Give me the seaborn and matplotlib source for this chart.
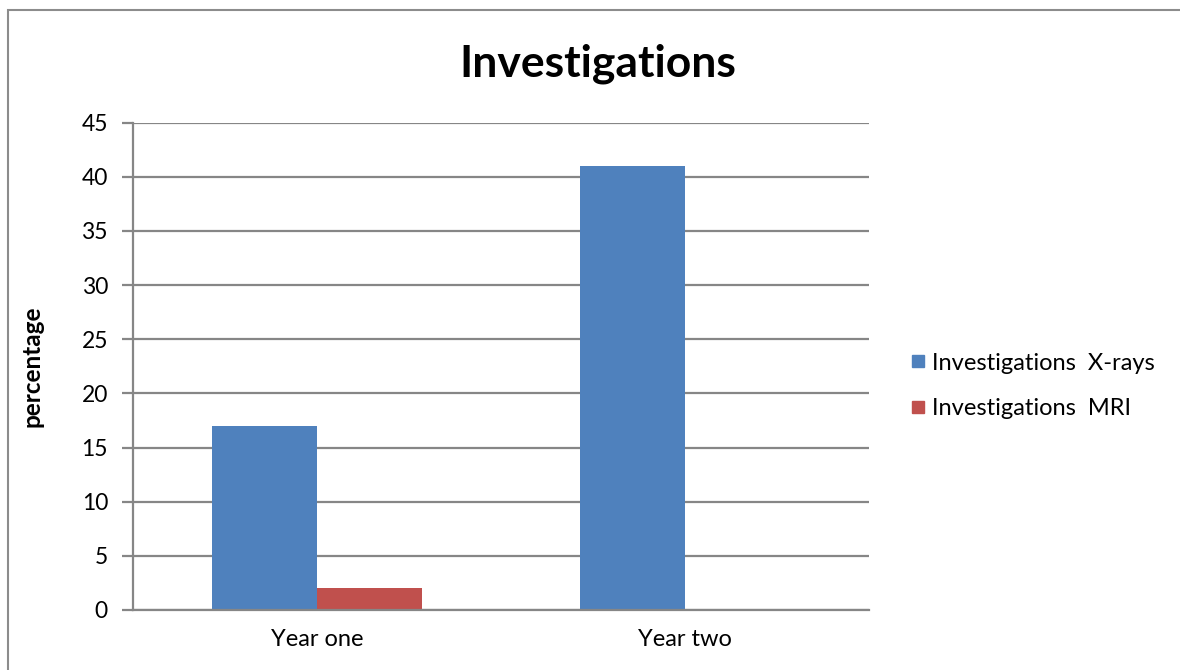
import matplotlib
matplotlib.use("Agg")
import matplotlib.pyplot as plt
from matplotlib.lines import Line2D
from matplotlib.patches import Rectangle
import seaborn as sns
import pandas as pd

years = ["Year one", "Year two"]
xray_values = [17, 41]
mri_values = [2, 0]
series_names = ["Investigations  X-rays", "Investigations  MRI"]
series_colors = ["#4F81BD", "#C0504D"]
y_ticks = [0, 5, 10, 15, 20, 25, 30, 35, 40, 45]

df = pd.DataFrame({
    "year": years * 2,
    "value": xray_values + mri_values,
    "series": [series_names[0]] * len(years) + [series_names[1]] * len(years),
})

sns.set_style("white")
plt.rcParams["font.family"] = ["Lato", "DejaVu Sans"]
plt.rcParams["text.color"] = "black"
plt.rcParams["axes.labelcolor"] = "black"

fig = plt.figure(figsize=(11.8, 6.7), dpi=100)
ax = fig.add_axes([0.1127, 0.0896, 0.6237, 0.7273])

sns.barplot(data=df, x="year", y="value", hue="series", order=years,
            hue_order=series_names, palette=series_colors, width=0.57,
            dodge=True, saturation=1, ax=ax, legend=False, linewidth=0)

grid_color = "#868686"
ax.set_ylim(0, 45)
ax.set_xlim(-0.5, 1.5)
ax.set_yticks(y_ticks)
ax.set_yticklabels([str(t) for t in y_ticks], fontsize=16.5)
ax.yaxis.grid(True, color=grid_color, linewidth=1.6)
ax.set_axisbelow(True)
for side in ["top", "right"]:
    ax.spines[side].set_visible(False)
for side in ["left", "bottom"]:
    ax.spines[side].set_color(grid_color)
    ax.spines[side].set_linewidth(1.6)
ax.tick_params(axis="y", which="major", direction="out", length=8,
               width=1.6, color=grid_color, labelcolor="black", pad=10,
               left=True)
ax.tick_params(axis="x", length=0, pad=14, labelsize=17, labelcolor="black")
ax.set_xlabel("")
ax.set_ylabel("percentage", fontsize=17.5, fontweight="bold")
ax.yaxis.set_label_coords(-0.121, 0.5)

fig.text(0.5068, 0.905, "Investigations", ha="center", va="center",
         fontsize=32, fontweight="bold")

handles = [Line2D([0], [0], marker="s", linestyle="none", markersize=9,
                  markerfacecolor=c, markeredgecolor=c) for c in series_colors]
fig.legend(handles, series_names, loc="center left",
           bbox_to_anchor=(0.764, 0.424), frameon=False, fontsize=17,
           handlelength=0.6, handletextpad=0.3, labelspacing=1.05,
           borderaxespad=0)

# outer chart border
fig.patches.append(Rectangle((8 / 1180, -0.1), 1.2, (670 - 10) / 670 + 0.1,
                             transform=fig.transFigure, fill=False,
                             edgecolor="#8c8c8c", linewidth=1.5))

fig.savefig("out.png", dpi=100)
